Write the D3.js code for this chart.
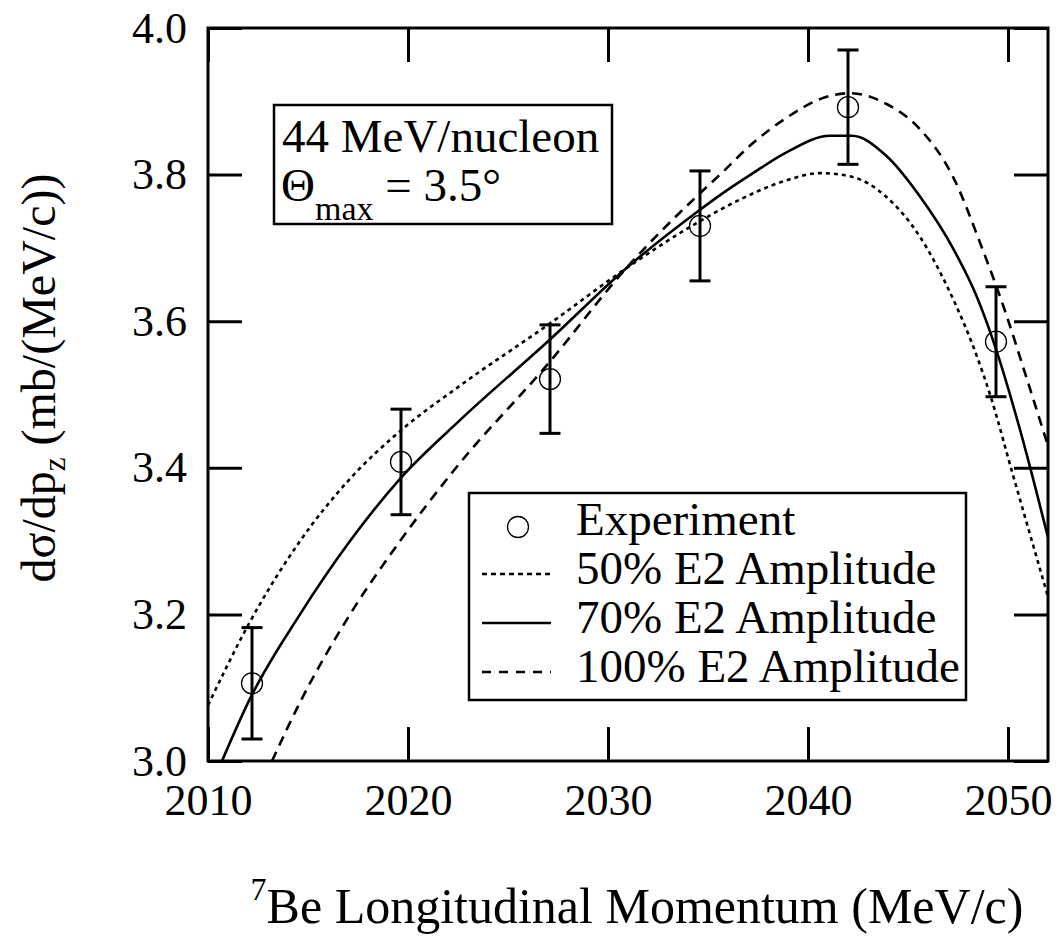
<!DOCTYPE html>
<html>
<head>
<meta charset="utf-8">
<script src="https://cdn.jsdelivr.net/npm/d3@7"></script>
<style>
  body { margin: 0; background: #fff; }
  text { font-family: "Liberation Serif", "Times New Roman", serif; fill: #000; }
</style>
</head>
<body>
<script>
// experiment points
const expX = [2012.2, 2019.65, 2027.1, 2034.6, 2042.0, 2049.4];
const expY = [3.106, 3.408, 3.521, 3.730, 3.892, 3.572];
const expErr = [0.076, 0.072, 0.074, 0.075, 0.078, 0.075];

// 50% E2 amplitude (dotted)
const e50X = [2010.0, 2012.1, 2014.6, 2017.1, 2019.6, 2022.6, 2027.1, 2030.9, 2034.5, 2036.6, 2038.9, 2040.6, 2042.2, 2043.9, 2045.6, 2047.0, 2048.5, 2049.1, 2050.25, 2052.0];
const e50Y = [3.076, 3.190, 3.300, 3.385, 3.450, 3.512, 3.597, 3.672, 3.735, 3.766, 3.792, 3.802, 3.797, 3.770, 3.715, 3.645, 3.548, 3.500, 3.390, 3.224];

// 70% E2 amplitude (solid)
const e70X = [2010.7, 2012.1, 2014.6, 2017.1, 2019.6, 2022.6, 2027.1, 2030.9, 2034.5, 2035.6, 2037.25, 2038.9, 2041.1, 2042.2, 2043.9, 2045.6, 2047.3, 2048.4, 2049.4, 2050.6, 2052.0];
const e70Y = [3.0, 3.085, 3.200, 3.300, 3.385, 3.465, 3.575, 3.672, 3.750, 3.772, 3.802, 3.830, 3.853, 3.853, 3.826, 3.770, 3.697, 3.636, 3.562, 3.452, 3.305];

// 100% E2 amplitude (dashed)
const e100X = [2013.2, 2014.6, 2017.1, 2019.6, 2022.25, 2027.1, 2030.9, 2034.5, 2035.6, 2037.25, 2038.9, 2040.6, 2042.1, 2043.95, 2045.6, 2047.25, 2048.7, 2049.9, 2050.9, 2052.0];
const e100Y = [3.0, 3.080, 3.200, 3.300, 3.395, 3.545, 3.672, 3.772, 3.800, 3.843, 3.877, 3.903, 3.911, 3.896, 3.862, 3.797, 3.700, 3.610, 3.525, 3.430];

const xTicks = [2010, 2020, 2030, 2040, 2050];
const yTicks = [3.0, 3.2, 3.4, 3.6, 3.8, 4.0];

const W = 1061, H = 940;
const margin = {left: 208, top: 28, right: 13, bottom: 179};
const width = W - margin.left - margin.right;
const height = H - margin.top - margin.bottom;

const svg = d3.select('body').append('svg')
  .attr('width', W)
  .attr('height', H);

const g = svg.append('g').attr('transform', `translate(${margin.left},${margin.top})`);

const x = d3.scaleLinear().domain([2010, 2052]).range([0, width]);
const y = d3.scaleLinear().domain([3.0, 4.0]).range([height, 0]);

svg.append('defs').append('clipPath').attr('id', 'clip')
  .append('rect').attr('width', width).attr('height', height);

// axes, ticks pointing inwards
const tickLen = 34;
const styleAxis = (sel) => {
  sel.attr('font-family', null);
  sel.select('.domain').remove();
  sel.selectAll('line').attr('stroke', '#000').attr('stroke-width', 3);
  sel.selectAll('text').style('font-size', '44px').style('font-family', '"Liberation Serif", serif');
};

g.append('g').attr('transform', `translate(0,${height})`)
  .call(d3.axisBottom(x).tickValues(xTicks).tickSize(-tickLen).tickPadding(23).tickFormat(d3.format('d')))
  .call(styleAxis);
g.append('g')
  .call(d3.axisTop(x).tickValues(xTicks).tickSize(-tickLen).tickFormat(''))
  .call(styleAxis);
g.append('g')
  .call(d3.axisLeft(y).tickValues(yTicks).tickSize(-tickLen).tickPadding(21).tickFormat(d3.format('.1f')))
  .call(styleAxis);
g.append('g').attr('transform', `translate(${width},0)`)
  .call(d3.axisRight(y).tickValues(yTicks).tickSize(-tickLen).tickFormat(''))
  .call(styleAxis);

g.append('rect')
  .attr('width', width).attr('height', height)
  .attr('fill', 'none').attr('stroke', '#000').attr('stroke-width', 3);

// theory curves
const line = d3.line()
  .x(d => x(d[0]))
  .y(d => y(d[1]))
  .curve(d3.curveMonotoneX);

const curves = [
  {xs: e50X, ys: e50Y, dash: '4,4'},
  {xs: e70X, ys: e70Y, dash: null},
  {xs: e100X, ys: e100Y, dash: '10,7'}
];

const curveG = g.append('g').attr('clip-path', 'url(#clip)');
curves.forEach(c => {
  curveG.append('path')
    .datum(c.xs.map((v, i) => [v, c.ys[i]]))
    .attr('d', line)
    .attr('fill', 'none')
    .attr('stroke', '#000')
    .attr('stroke-width', 2.6)
    .attr('stroke-dasharray', c.dash);
});

// experiment with error bars
const pts = expX.map((v, i) => ({x: v, y: expY[i], e: expErr[i]}));
const eb = g.append('g').selectAll('g').data(pts).enter().append('g');
eb.append('line')
  .attr('x1', d => x(d.x)).attr('x2', d => x(d.x))
  .attr('y1', d => y(d.y - d.e)).attr('y2', d => y(d.y + d.e))
  .attr('stroke', '#000').attr('stroke-width', 3);
[-1, 1].forEach(s => {
  eb.append('line')
    .attr('x1', d => x(d.x) - 10.5).attr('x2', d => x(d.x) + 10.5)
    .attr('y1', d => y(d.y + s * d.e)).attr('y2', d => y(d.y + s * d.e))
    .attr('stroke', '#000').attr('stroke-width', 3);
});
eb.append('circle')
  .attr('cx', d => x(d.x)).attr('cy', d => y(d.y))
  .attr('r', 10.5)
  .attr('fill', 'none').attr('stroke', '#000').attr('stroke-width', 1.3);

// info box
svg.append('rect')
  .attr('x', 274).attr('y', 105).attr('width', 338).attr('height', 119)
  .attr('fill', '#fff').attr('stroke', '#000').attr('stroke-width', 2.5);
svg.append('text').attr('x', 282).attr('y', 152)
  .style('font-size', '47px').text('44 MeV/nucleon');
const theta = svg.append('text').attr('x', 281).attr('y', 201).style('font-size', '47px');
theta.append('tspan').text('Θ');
theta.append('tspan').attr('dy', 19).style('font-size', '34px').text('max');
theta.append('tspan').attr('dy', -19).text(' = 3.5°');

// legend
const lg = svg.append('g');
lg.append('rect')
  .attr('x', 469).attr('y', 493).attr('width', 497).attr('height', 207)
  .attr('fill', '#fff').attr('stroke', '#000').attr('stroke-width', 2.5);
const legendRows = [
  {label: 'Experiment', type: 'circle'},
  {label: '50% E2 Amplitude', dash: '5,4'},
  {label: '70% E2 Amplitude', dash: null},
  {label: '100% E2 Amplitude', dash: '9,8'}
];
legendRows.forEach((r, i) => {
  const base = 535 + i * 49;
  if (r.type === 'circle') {
    lg.append('circle').attr('cx', 518).attr('cy', base - 8).attr('r', 10.5)
      .attr('fill', 'none').attr('stroke', '#000').attr('stroke-width', 1.3);
  } else {
    lg.append('line').attr('x1', 482).attr('x2', 551)
      .attr('y1', base - 10).attr('y2', base - 10)
      .attr('stroke', '#000').attr('stroke-width', 2.6)
      .attr('stroke-dasharray', r.dash);
  }
  lg.append('text').attr('x', 576).attr('y', base)
    .style('font-size', '47px').text(r.label);
});

// axis titles
const xt = svg.append('text')
  .attr('x', 637).attr('y', 923)
  .attr('text-anchor', 'middle')
  .style('font-size', '50px');
xt.append('tspan').attr('dy', -23).style('font-size', '32px').text('7');
xt.append('tspan').attr('dy', 23).text('Be Longitudinal Momentum (MeV/c)');

const yt = svg.append('text')
  .attr('transform', 'translate(55,378) rotate(-90)')
  .attr('text-anchor', 'middle')
  .style('font-size', '48px');
yt.append('tspan').text('dσ/dp');
yt.append('tspan').attr('dy', 10).style('font-size', '31px').text('z');
yt.append('tspan').attr('dy', -10).text(' (mb/(MeV/c))');
</script>
</body>
</html>
